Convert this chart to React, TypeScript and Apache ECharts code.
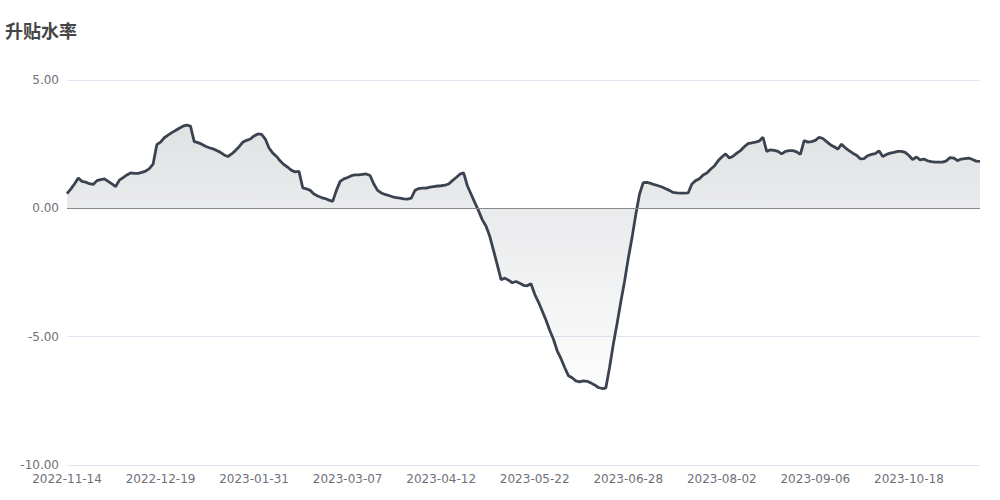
import React, { useEffect, useRef } from "react";
import * as echarts from "echarts";

const START_DATE = "2022-11-14";
const END_DATE = "2023-11-14";
const HOLIDAYS = [
  "2023-01-02", "2023-01-23", "2023-01-24", "2023-01-25", "2023-01-26", "2023-01-27",
  "2023-04-05", "2023-05-01", "2023-05-02", "2023-05-03", "2023-06-22", "2023-06-23",
  "2023-09-29", "2023-10-02", "2023-10-03", "2023-10-04", "2023-10-05", "2023-10-06",
];
const EXTRA_DAYS = ["2023-10-07"];

function buildDates(): string[] {
  const out: string[] = [];
  const d = new Date(START_DATE + "T00:00:00Z");
  const end = new Date(END_DATE + "T00:00:00Z");
  while (d.getTime() <= end.getTime()) {
    const s = d.toISOString().slice(0, 10);
    const wd = d.getUTCDay();
    if ((wd !== 0 && wd !== 6 && !HOLIDAYS.includes(s)) || EXTRA_DAYS.includes(s)) out.push(s);
    d.setUTCDate(d.getUTCDate() + 1);
  }
  return out;
}

const categories = buildDates();

const basisRate = [
  0.57, 0.75, 0.95, 1.18, 1.05, 1.02, 0.96, 0.93, 1.08, 1.12,
  1.15, 1.05, 0.95, 0.85, 1.1, 1.2, 1.3, 1.38, 1.36, 1.36,
  1.4, 1.45, 1.55, 1.72, 2.48, 2.58, 2.75, 2.85, 2.95, 3.03,
  3.12, 3.2, 3.24, 3.2, 2.6, 2.56, 2.5, 2.42, 2.36, 2.32,
  2.25, 2.18, 2.08, 2.02, 2.12, 2.25, 2.4, 2.58, 2.65, 2.7,
  2.82, 2.9, 2.88, 2.7, 2.35, 2.15, 2.02, 1.84, 1.7, 1.6,
  1.48, 1.42, 1.44, 0.8, 0.76, 0.7, 0.56, 0.48, 0.42, 0.38,
  0.32, 0.27, 0.7, 1.05, 1.15, 1.2, 1.27, 1.3, 1.3, 1.32,
  1.34, 1.28, 0.95, 0.7, 0.6, 0.54, 0.5, 0.45, 0.42, 0.4,
  0.37, 0.36, 0.4, 0.7, 0.77, 0.79, 0.79, 0.83, 0.85, 0.87,
  0.88, 0.9, 0.95, 1.08, 1.2, 1.33, 1.38, 0.88, 0.55, 0.22,
  -0.1, -0.45, -0.7, -1.1, -1.65, -2.2, -2.78, -2.72, -2.8, -2.9,
  -2.85, -2.92, -3.0, -3.02, -2.94, -3.35, -3.65, -4.0, -4.35, -4.75,
  -5.1, -5.55, -5.85, -6.2, -6.52, -6.6, -6.72, -6.76, -6.72, -6.74,
  -6.8, -6.88, -6.98, -7.02, -7.0, -6.2, -5.3, -4.5, -3.65, -2.85,
  -1.95, -1.15, -0.25, 0.55, 1.0, 1.01, 0.97, 0.92, 0.88, 0.83,
  0.76, 0.7, 0.62, 0.6, 0.59, 0.59, 0.6, 0.95, 1.08, 1.15,
  1.3, 1.38, 1.52, 1.65, 1.85, 2.0, 2.12, 1.96, 2.03, 2.15,
  2.25, 2.4, 2.52, 2.55, 2.58, 2.62, 2.77, 2.22, 2.28, 2.26,
  2.22, 2.12, 2.22, 2.25, 2.25, 2.2, 2.1, 2.64, 2.58, 2.6,
  2.65, 2.77, 2.72, 2.6, 2.48, 2.4, 2.31, 2.5, 2.36, 2.25,
  2.15, 2.07, 1.93, 1.94, 2.05, 2.1, 2.13, 2.24, 2.02, 2.1,
  2.15, 2.18, 2.22, 2.22, 2.18, 2.06, 1.9, 2.0, 1.89, 1.92,
  1.85, 1.82, 1.8, 1.8, 1.8, 1.85, 1.98, 1.96, 1.86, 1.92,
  1.94, 1.96, 1.9, 1.84, 1.83,
];

const Y_MIN = -10;
const Y_MAX = 5;
const Y_INTERVAL = 5;

const FONT = "'DejaVu Sans', sans-serif";

export default function App() {
  const ref = useRef<HTMLDivElement>(null);
  useEffect(() => {
    document.body.style.margin = "0";
    if (!ref.current) return;
    const chart = echarts.init(ref.current, null, { renderer: "svg" });
    chart.setOption({
      animation: false,
      textStyle: { fontFamily: FONT },
      title: {
        text: "升贴水率",
        left: 0,
        top: 17,
        textStyle: {
          fontSize: 18,
          fontWeight: "bold",
          color: "#464646",
          fontFamily: "'DejaVu Sans', 'Noto Sans CJK SC', sans-serif",
        },
      },
      grid: { left: 67, right: 20, top: 80, bottom: 35 },
      xAxis: {
        type: "category",
        data: categories,
        boundaryGap: false,
        axisLine: { show: false },
        axisTick: { show: false },
        axisLabel: { interval: 24, color: "#6E7079", fontSize: 12, fontFamily: FONT },
      },
      yAxis: {
        type: "value",
        min: Y_MIN,
        max: Y_MAX,
        interval: Y_INTERVAL,
        axisLabel: {
          color: "#6E7079",
          fontSize: 12,
          fontFamily: FONT,
          formatter: (v: number) => v.toFixed(2),
        },
        splitLine: { lineStyle: { color: "#E0E6F1" } },
      },
      series: [
        {
          type: "line",
          data: basisRate,
          symbol: "none",
          lineStyle: { color: "#3b4350", width: 2.8 },
          itemStyle: { color: "#3b4350" },
          areaStyle: {
            color: new echarts.graphic.LinearGradient(0, 0, 0, 1, [
              { offset: 0, color: "rgba(59,67,80,0.22)" },
              { offset: 1, color: "rgba(59,67,80,0.02)" },
            ]),
          },
          markLine: {
            silent: true,
            symbol: "none",
            label: { show: false },
            lineStyle: { color: "#8a8a8a", width: 1, type: "solid" },
            data: [{ yAxis: 0 }],
          },
        },
      ],
    });
    return () => chart.dispose();
  }, []);
  return <div ref={ref} style={{ width: 1000, height: 500 }} />;
}
